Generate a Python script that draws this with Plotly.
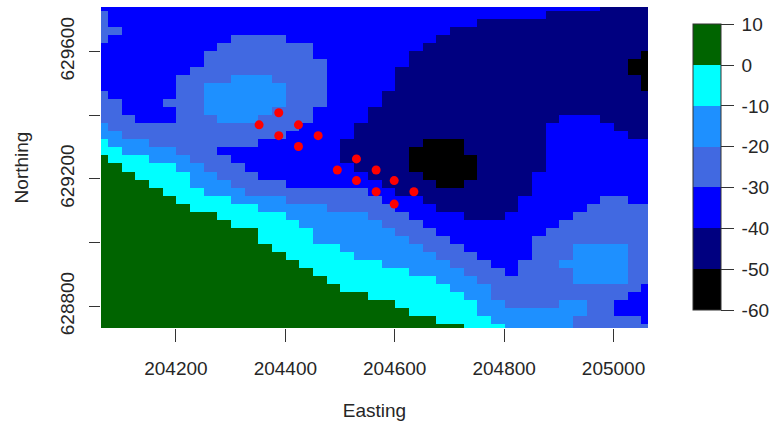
import plotly.graph_objects as go

# class index -> band value (midpoint of each 10-unit band)
band_values = [-55, -45, -35, -25, -15, -5, 5]
band_colors = ["#000000", "#000080", "#0000FF", "#4169E1", "#1E90FF", "#00FFFF", "#006400"]
band_edges = [-60, -50, -40, -30, -20, -10, 0, 10]
band_labels = ["\u2009-60", "\u2009-50", "\u2009-40", "\u2009-30", "\u2009-20", "\u2009-10", "\u20090", "\u200910"]

# rows from north to south; "class:last column" runs
grid_rows = [
    "2:36 1:40",
    "3:0 2:32 1:40",
    "3:0 2:27 1:40",
    "3:1 2:25 1:40",
    "3:0 2:9 3:13 2:24 1:40",
    "2:8 3:15 2:23 1:40",
    "2:7 3:15 2:22 1:39 0:40",
    "2:7 3:16 2:22 1:38 0:40",
    "2:6 3:16 2:21 1:38 0:40",
    "2:5 3:9 4:12 3:16 2:21 1:39 0:40",
    "2:5 3:7 4:13 3:16 2:21 1:39 0:40",
    "3:0 2:5 3:7 4:13 3:16 2:20 1:40",
    "3:1 2:4 3:7 4:13 3:16 2:20 1:40",
    "3:1 2:5 3:7 4:12 3:15 2:19 1:40",
    "3:2 2:5 3:8 4:11 3:15 2:19 1:33 2:36 1:40",
    "4:0 3:14 2:18 1:32 2:37 1:40",
    "4:1 3:13 2:18 1:32 2:38 1:40",
    "5:0 4:3 3:11 2:17 1:23 0:26 1:32 2:40",
    "5:1 4:5 3:8 2:17 1:22 0:26 1:32 2:40",
    "6:0 5:3 4:6 3:9 2:17 1:22 0:27 1:32 2:40",
    "6:1 5:5 4:7 3:10 2:18 1:22 0:27 1:32 2:40",
    "6:2 5:6 4:8 3:11 2:19 1:23 0:27 1:31 2:40",
    "6:3 5:6 4:9 3:13 2:20 1:24 0:26 1:31 2:40",
    "6:4 5:7 4:10 3:19 2:21 1:31 2:40",
    "6:5 5:9 4:13 3:20 2:23 1:30 2:36 3:38 2:40",
    "6:6 5:11 4:16 3:21 2:24 1:30 2:35 3:40",
    "6:8 5:13 4:19 3:22 2:26 1:29 2:34 3:40",
    "6:9 5:14 4:20 3:23 2:33 3:40",
    "6:11 5:15 4:21 3:24 2:32 3:40",
    "6:11 5:15 4:22 3:25 2:31 3:40",
    "6:12 5:17 4:23 3:26 2:31 3:34 4:38 3:40",
    "6:13 5:18 4:24 3:27 2:31 3:34 4:38 3:40",
    "6:14 5:20 4:25 3:28 2:30 3:33 4:38 3:40",
    "6:15 5:22 4:26 3:29 2:30 3:34 4:38 3:40",
    "6:16 5:24 4:27 3:34 4:38 3:40",
    "6:17 5:25 4:28 3:39 2:40",
    "6:19 5:26 4:28 3:38 2:40",
    "6:21 5:27 4:29 3:33 4:35 3:37 2:40",
    "6:22 5:27 4:35 3:37 2:40",
    "6:24 5:28 4:34 3:39 2:40",
    "6:26 5:29 4:34 3:40",
]

easting_start, easting_step = 204063, 25
northing_start, northing_step = 629740, -25.2
easting_ticks = [204200, 204400, 204600, 204800, 205000]
northing_ticks = [628800, 629000, 629200, 629400, 629600]
northing_labels = ["628800", "", "629200", "", "629600"]

point_e = [204388, 204352, 204424, 204388, 204460, 204424, 204530, 204495, 204566,
           204530, 204599, 204566, 204635, 204599]
point_n = [629408, 629370, 629370, 629336, 629336, 629302, 629263, 629228, 629228,
           629195, 629195, 629160, 629160, 629121]


def expand(row):
    cells, start = [], 0
    for run in row.split():
        cls, last = run.split(":")
        cells += [band_values[int(cls)]] * (int(last) + 1 - start)
        start = int(last) + 1
    return cells


z = [expand(r) for r in grid_rows]
xs = [easting_start + easting_step * i for i in range(len(z[0]))]
ys = [northing_start + northing_step * i for i in range(len(z))]

scale = []
n = len(band_colors)
for i, c in enumerate(band_colors):
    scale += [[i / n, c], [(i + 1) / n, c]]

FONT = "Liberation Sans"
TXT = "#262626"
SIZE = 19
L, R, T, B = 100.7, 648.5, 7.3, 327.7
W = 800
fig = go.Figure()
fig.add_trace(go.Heatmap(
    x=xs, y=ys, z=z, zmin=band_edges[0], zmax=band_edges[-1], colorscale=scale,
    hoverinfo="skip",
    colorbar=dict(
        x=(694 - L) / (R - L), xanchor="left",
        y=(B - 310) / (B - T), yanchor="bottom", len=286, lenmode="pixels",
        thickness=28, thicknessmode="pixels", xpad=0, ypad=0,
        outlinecolor="#333333", outlinewidth=1,
        tickmode="array", tickvals=band_edges, ticktext=band_labels,
        ticks="outside", ticklen=13, tickcolor="#333333", tickwidth=1,
        tickfont=dict(family=FONT, size=SIZE, color=TXT),
    ),
))
fig.add_trace(go.Scatter(
    x=point_e, y=point_n, mode="markers", hoverinfo="skip", showlegend=False,
    marker=dict(color="#FF0000", size=9, line=dict(width=0)),
))
axis_common = dict(
    showgrid=False, zeroline=False, ticks="outside", tickcolor="#333333", tickwidth=1,
    tickfont=dict(family=FONT, size=SIZE, color=TXT),
    showline=False, automargin=False,
)
fig.update_xaxes(
    range=[easting_start, easting_start + easting_step * 40],
    tickmode="array", tickvals=easting_ticks, ticktext=[str(v) for v in easting_ticks],
    ticklen=13, ticklabelstandoff=10,
    title=dict(text="Easting", font=dict(family=FONT, size=SIZE, color=TXT), standoff=25),
    **axis_common,
)
fig.update_yaxes(
    range=[northing_start + northing_step * 40, northing_start],
    tickmode="array", tickvals=northing_ticks, ticktext=northing_labels, tickangle=-90,
    ticklen=11, ticklabelstandoff=7,
    title=dict(text="Northing", font=dict(family=FONT, size=SIZE, color=TXT), standoff=23),
    **axis_common,
)
fig.update_layout(
    width=W, height=421, autosize=False, showlegend=False,
    paper_bgcolor="white", plot_bgcolor="white",
    margin=dict(l=L, r=W - R, t=T, b=421 - B, pad=0),
)
fig.write_html("out.html", config={"displayModeBar": False},
               post_script="document.body.style.margin='0';document.body.style.overflow='hidden';document.documentElement.style.overflow='hidden';")
